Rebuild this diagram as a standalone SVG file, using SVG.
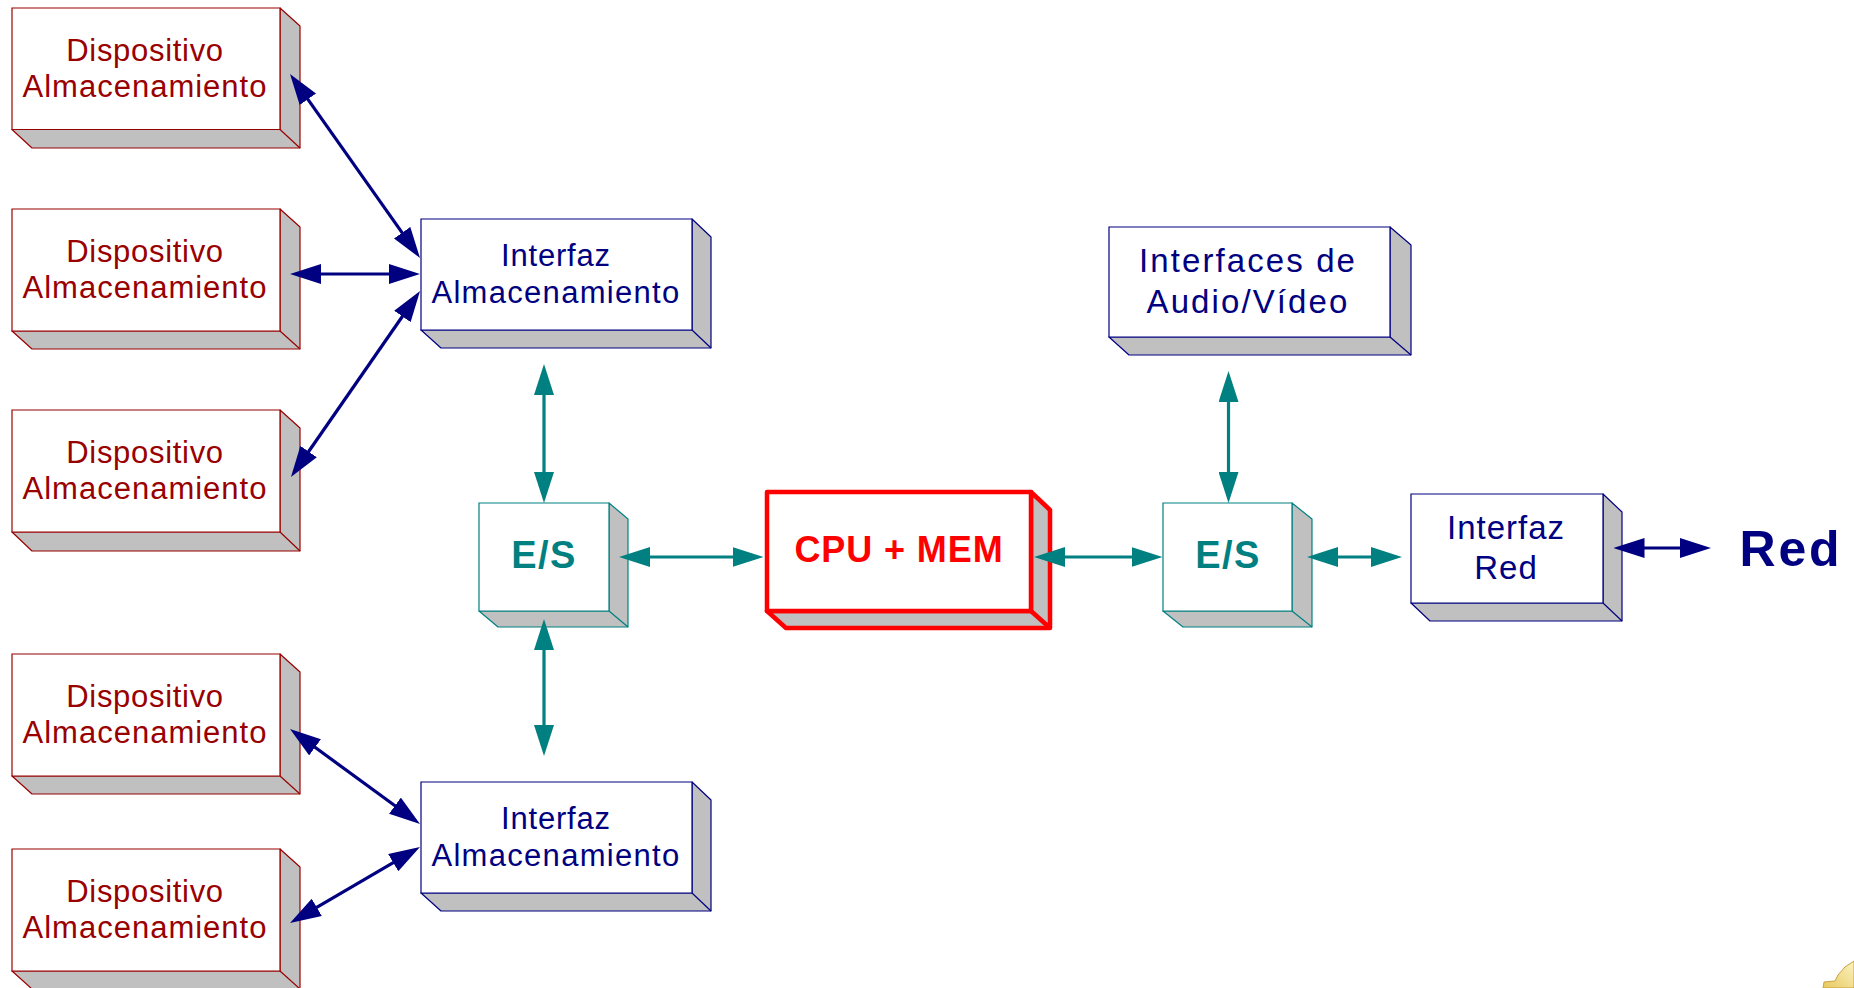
<svg xmlns="http://www.w3.org/2000/svg" width="1854" height="988" viewBox="0 0 1854 988">
<style>
text{font-family:"Liberation Sans",Arial,sans-serif;text-anchor:middle}
.front{fill:#fff}.side{fill:#c0c0c0;stroke-linejoin:round}
.dev *{stroke:#990000;stroke-width:1.2}.dev text{fill:#990000;stroke:none;font-size:31px;letter-spacing:1px}
.ifc *{stroke:#000080;stroke-width:1.2}.ifc text{fill:#000080;stroke:none;font-size:31px;letter-spacing:1.3px}
.dev text.w{letter-spacing:.7px}.ifc text.w{letter-spacing:.8px}
.ifc text.big{font-size:33px;letter-spacing:2.1px}.ifc text.red{font-size:33px;letter-spacing:1px}
.es *{stroke:#008080;stroke-width:1.2}.es text{fill:#008080;stroke:none;font-size:38px;font-weight:bold;letter-spacing:1.5px}
.cpu *{stroke:#ff0000;stroke-width:4.5}.cpu text{fill:#ff0000;stroke:none;font-size:36px;font-weight:bold;letter-spacing:.9px}
.n{fill:none;stroke:#000080;stroke-width:3.2;marker-start:url(#hn);marker-end:url(#hn)}
.t{fill:none;stroke:#008080;stroke-width:3.2;marker-start:url(#ht);marker-end:url(#ht)}
</style>
<defs>
<marker id="hn" markerUnits="userSpaceOnUse" markerWidth="31" markerHeight="20" refX="6" refY="10" orient="auto-start-reverse"><path d="M0,0L31,10L0,20z" fill="#000080"/></marker>
<marker id="ht" markerUnits="userSpaceOnUse" markerWidth="31" markerHeight="20" refX="6" refY="10" orient="auto-start-reverse"><path d="M0,0L31,10L0,20z" fill="#008080"/></marker>
<linearGradient id="gold" x1="0" y1="1" x2="1" y2="0"><stop offset="0" stop-color="#e8c860"/><stop offset="1" stop-color="#fbf3c0"/></linearGradient>
</defs>
<g id="dev1" class="dev"><path class="side" d="M280,8L300,26V148H32L12,129.5H280z"/><path class="front" d="M12,8H280V129.5H12z"/><path fill="none" d="M280,129.5L300,148"/><text class="w" x="145" y="61">Dispositivo</text><text x="145" y="97">Almacenamiento</text></g>
<g id="dev2" class="dev"><path class="side" d="M280,209L300,227V349H32L12,331H280z"/><path class="front" d="M12,209H280V331H12z"/><path fill="none" d="M280,331L300,349"/><text class="w" x="145" y="262">Dispositivo</text><text x="145" y="298">Almacenamiento</text></g>
<g id="dev3" class="dev"><path class="side" d="M280,410L300,428V551H32L12,532H280z"/><path class="front" d="M12,410H280V532H12z"/><path fill="none" d="M280,532L300,551"/><text class="w" x="145" y="463">Dispositivo</text><text x="145" y="499">Almacenamiento</text></g>
<g id="dev4" class="dev"><path class="side" d="M280,654L300,672V794H32L12,776H280z"/><path class="front" d="M12,654H280V776H12z"/><path fill="none" d="M280,776L300,794"/><text class="w" x="145" y="707">Dispositivo</text><text x="145" y="743">Almacenamiento</text></g>
<g id="dev5" class="dev"><path class="side" d="M280,849L300,867V989H32L12,971H280z"/><path class="front" d="M12,849H280V971H12z"/><path fill="none" d="M280,971L300,989"/><text class="w" x="145" y="902">Dispositivo</text><text x="145" y="938">Almacenamiento</text></g>
<g id="ifc1" class="ifc"><path class="side" d="M692,219L711,237V348H441L421,330H692z"/><path class="front" d="M421,219H692V330H421z"/><path fill="none" d="M692,330L711,348"/><text class="w" x="556" y="266">Interfaz</text><text x="556" y="303">Almacenamiento</text></g>
<g id="ifc2" class="ifc"><path class="side" d="M692,782L711,800V911H441L421,893H692z"/><path class="front" d="M421,782H692V893H421z"/><path fill="none" d="M692,893L711,911"/><text class="w" x="556" y="829">Interfaz</text><text x="556" y="866">Almacenamiento</text></g>
<g id="av" class="ifc"><path class="side" d="M1390,227L1411,245V355H1129L1109,337H1390z"/><path class="front" d="M1109,227H1390V337H1109z"/><path fill="none" d="M1390,337L1411,355"/><text class="big" x="1248" y="272">Interfaces de</text><text class="big" x="1248" y="313">Audio/Vídeo</text></g>
<g id="ifcred" class="ifc"><path class="side" d="M1603,494L1622,512V621H1430L1411,603H1603z"/><path class="front" d="M1411,494H1603V603H1411z"/><path fill="none" d="M1603,603L1622,621"/><text class="red" x="1506" y="539">Interfaz</text><text class="red" x="1506" y="579">Red</text></g>
<g id="es1" class="es"><path class="side" d="M609,503L628,519V627H498L479,611H609z"/><path class="front" d="M479,503H609V611H479z"/><path fill="none" d="M609,611L628,627"/><text x="544" y="568">E/S</text></g>
<g id="es2" class="es"><path class="side" d="M1292,503L1312,519V627H1183L1163,611H1292z"/><path class="front" d="M1163,503H1292V611H1163z"/><path fill="none" d="M1292,611L1312,627"/><text x="1228" y="568">E/S</text></g>
<g id="cpu" class="cpu"><path class="side" d="M1031,492L1050,510V628H786L767,611H1031z"/><path class="front" d="M767,492H1031V611H767z" stroke-linejoin="round"/><path fill="none" d="M1031,611L1050,628"/><text x="899" y="562">CPU + MEM</text></g>
<g id="connectors">
<path class="n" d="M304.4,94.4L405.6,237.6"/>
<path class="n" d="M315,274H395"/>
<path class="n" d="M405.8,311.5L305.2,456.5"/>
<path class="n" d="M310.2,743.8L399.8,809.2"/>
<path class="n" d="M398.4,859.6L311.6,910.4"/>
<path class="n" d="M1638.5,548H1686"/>
<path class="t" d="M544,389V478"/>
<path class="t" d="M544,644V731"/>
<path class="t" d="M644,557H738.5"/>
<path class="t" d="M1059,557H1137.5"/>
<path class="t" d="M1332,557H1377"/>
<path class="t" d="M1228.5,396V478"/>
</g>
<text x="1791" y="566" style="font-size:50px;font-weight:bold;fill:#000080;letter-spacing:2.8px">Red</text>
<path id="corner" d="M1854,961L1845,967L1838,975L1835,981L1824,982L1823,988H1854z" fill="url(#gold)" stroke="#c9a23c" stroke-width="1"/>
</svg>
